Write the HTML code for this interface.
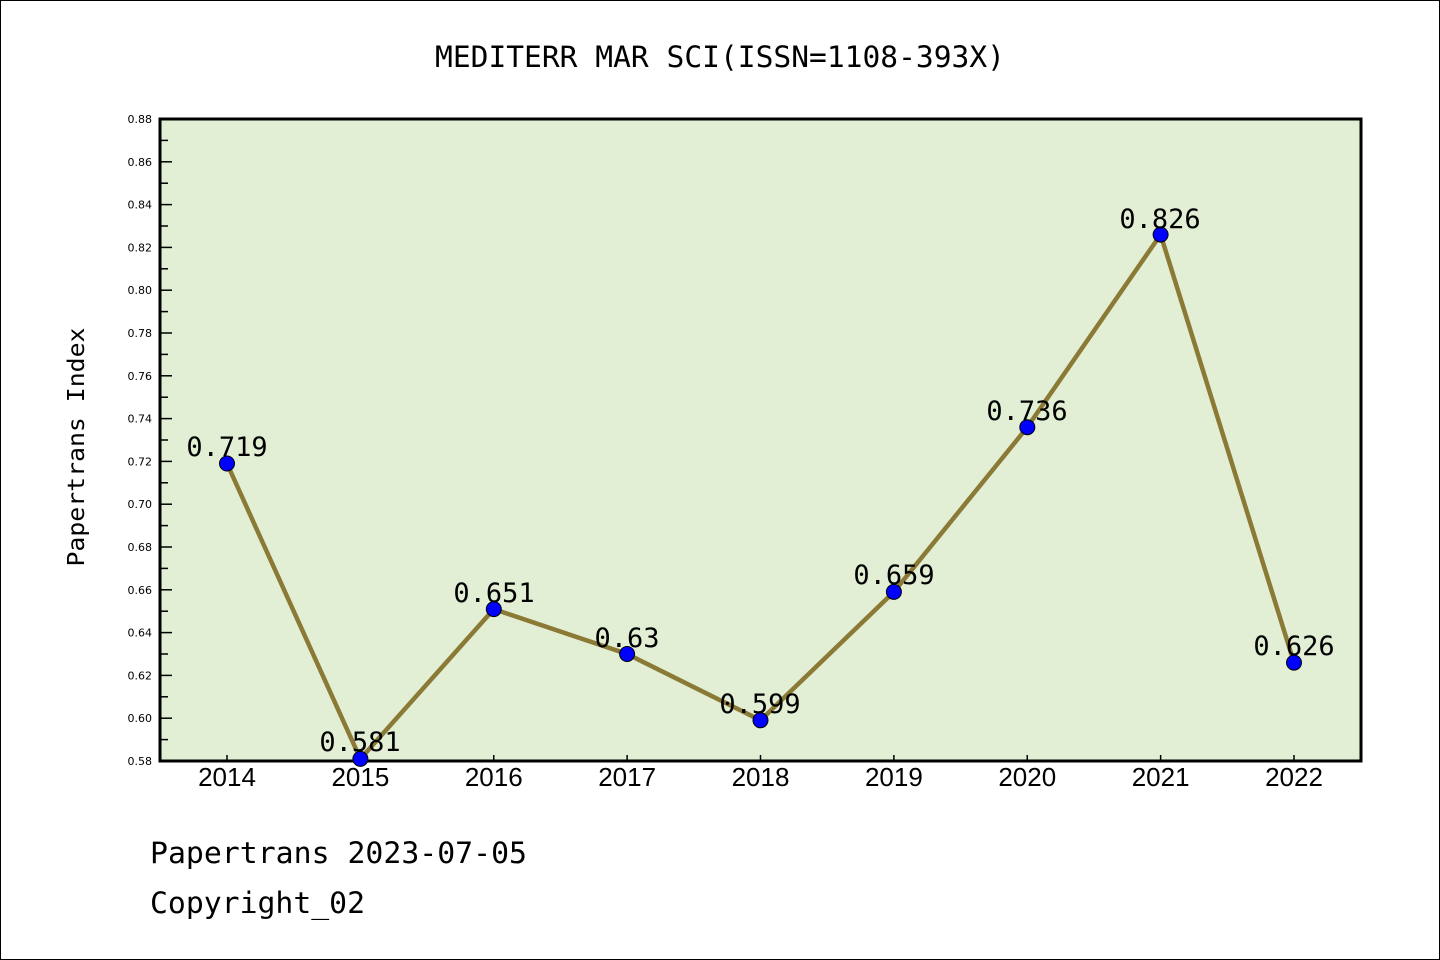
<!DOCTYPE html>
<html><head><style>body{margin:0;background:#fff}svg{display:block}</style></head><body>
<svg width="1440" height="960" xmlns="http://www.w3.org/2000/svg" font-family="'DejaVu Sans Mono','Liberation Mono',monospace">
<rect x="0.5" y="0.5" width="1439" height="959" fill="#fff" stroke="#000"/>
<text x="435" y="67" font-size="29" textLength="570" lengthAdjust="spacingAndGlyphs">MEDITERR MAR SCI(ISSN=1108-393X)</text>
<rect x="160" y="119" width="1201" height="642" fill="#e2efd5" stroke="#000" stroke-width="3"/>
<g stroke="#000" stroke-width="1.5" id="ticks"></g>
<g font-family="'DejaVu Sans','Liberation Sans',sans-serif" font-size="11" text-anchor="end" id="ylab"></g>
<g font-family="'Liberation Sans',sans-serif" font-size="26" text-anchor="middle" id="xlab"></g>
<text transform="translate(84,447) rotate(-90)" font-size="23" text-anchor="middle" textLength="239" lengthAdjust="spacingAndGlyphs">Papertrans Index</text>
<polyline fill="none" stroke="#8b7a36" stroke-width="4.5" points="227,463.5 360.4,758.9 493.8,609.1 627.1,654 760.5,720.3 893.9,591.9 1027.3,427.2 1160.6,234.6 1294,662.6"/>
<g fill="#0000ff" stroke="#000" stroke-width="1">
<circle cx="227" cy="463.5" r="7.5"/><circle cx="360.4" cy="758.9" r="7.5"/><circle cx="493.8" cy="609.1" r="7.5"/><circle cx="627.1" cy="654" r="7.5"/><circle cx="760.5" cy="720.3" r="7.5"/><circle cx="893.9" cy="591.9" r="7.5"/><circle cx="1027.3" cy="427.2" r="7.5"/><circle cx="1160.6" cy="234.6" r="7.5"/><circle cx="1294" cy="662.6" r="7.5"/>
</g>
<g font-size="27" text-anchor="middle">
<text x="227" y="456">0.719</text><text x="360" y="751">0.581</text><text x="494" y="602">0.651</text><text x="627" y="647">0.63</text><text x="760" y="713">0.599</text><text x="894" y="584">0.659</text><text x="1027" y="420">0.736</text><text x="1160" y="228">0.826</text><text x="1294" y="655">0.626</text>
</g>
<text x="150" y="863" font-size="29" textLength="377" lengthAdjust="spacingAndGlyphs">Papertrans 2023-07-05</text>
<text x="150" y="913" font-size="29" textLength="215" lengthAdjust="spacingAndGlyphs">Copyright_02</text>
<script>
var t=document.getElementById('ticks'),yl=document.getElementById('ylab'),xl=document.getElementById('xlab'),ns='http://www.w3.org/2000/svg';
for(var i=0;i<=30;i++){var y=761-i*21.4;var l=document.createElementNS(ns,'line');var len=i%2==0?12:8;l.setAttribute('x1',160);l.setAttribute('x2',160+len);l.setAttribute('y1',y);l.setAttribute('y2',y);t.appendChild(l);
if(i%2==0){var tx=document.createElementNS(ns,'text');tx.setAttribute('x',152);tx.setAttribute('y',y+4);tx.textContent=(0.58+i*0.01).toFixed(2);yl.appendChild(tx);}}
for(var j=0;j<9;j++){var x=227+j*133.375;var l=document.createElementNS(ns,'line');l.setAttribute('x1',x);l.setAttribute('x2',x);l.setAttribute('y1',761);l.setAttribute('y2',755);t.appendChild(l);
var tx=document.createElementNS(ns,'text');tx.setAttribute('x',x);tx.setAttribute('y',786);tx.textContent=2014+j;xl.appendChild(tx);}
</script>
</svg>
</body></html>
